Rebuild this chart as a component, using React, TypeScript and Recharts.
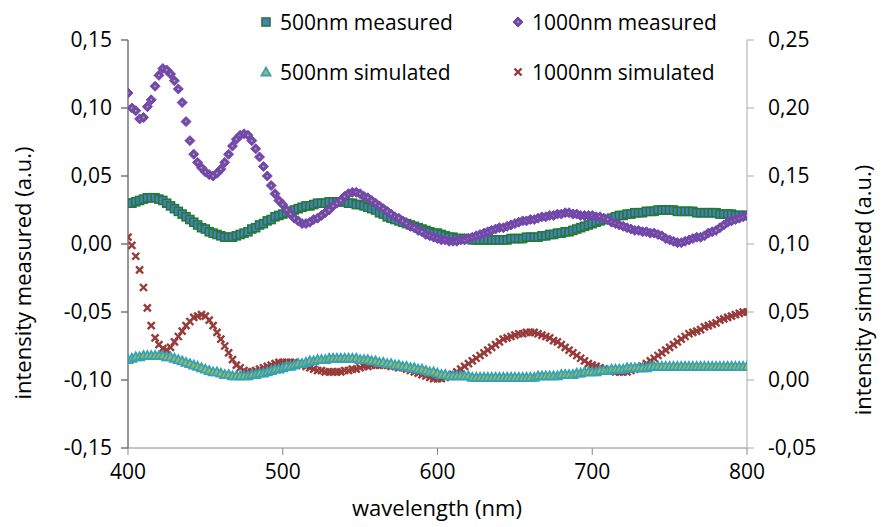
import { ScatterChart, Scatter, XAxis, YAxis, Label } from "recharts";

// wavelength grid (nm), 2.5 nm steps
const WAVELENGTH = [
  400, 402.5, 405, 407.5, 410, 412.5, 415, 417.5, 420, 422.5, 425, 427.5, 430, 432.5, 435, 437.5, 440, 442.5, 445, 447.5,
  450, 452.5, 455, 457.5, 460, 462.5, 465, 467.5, 470, 472.5, 475, 477.5, 480, 482.5, 485, 487.5, 490, 492.5, 495, 497.5,
  500, 502.5, 505, 507.5, 510, 512.5, 515, 517.5, 520, 522.5, 525, 527.5, 530, 532.5, 535, 537.5, 540, 542.5, 545, 547.5,
  550, 552.5, 555, 557.5, 560, 562.5, 565, 567.5, 570, 572.5, 575, 577.5, 580, 582.5, 585, 587.5, 590, 592.5, 595, 597.5,
  600, 602.5, 605, 607.5, 610, 612.5, 615, 617.5, 620, 622.5, 625, 627.5, 630, 632.5, 635, 637.5, 640, 642.5, 645, 647.5,
  650, 652.5, 655, 657.5, 660, 662.5, 665, 667.5, 670, 672.5, 675, 677.5, 680, 682.5, 685, 687.5, 690, 692.5, 695, 697.5,
  700, 702.5, 705, 707.5, 710, 712.5, 715, 717.5, 720, 722.5, 725, 727.5, 730, 732.5, 735, 737.5, 740, 742.5, 745, 747.5,
  750, 752.5, 755, 757.5, 760, 762.5, 765, 767.5, 770, 772.5, 775, 777.5, 780, 782.5, 785, 787.5, 790, 792.5, 795, 797.5,
  800,
];

// left axis (measured)
const MEASURED_500 = [
  0.030, 0.030, 0.031, 0.032, 0.033, 0.034, 0.034, 0.034, 0.033, 0.032, 0.030, 0.028, 0.026, 0.024, 0.022, 0.020, 0.018, 0.016, 0.014, 0.012,
  0.011, 0.009, 0.008, 0.007, 0.006, 0.005, 0.005, 0.005, 0.006, 0.007, 0.008, 0.009, 0.011, 0.012, 0.014, 0.015, 0.017, 0.018, 0.020, 0.021,
  0.022, 0.023, 0.024, 0.025, 0.026, 0.027, 0.028, 0.028, 0.029, 0.030, 0.030, 0.030, 0.031, 0.031, 0.031, 0.031, 0.031, 0.030, 0.030, 0.029,
  0.029, 0.028, 0.027, 0.026, 0.025, 0.023, 0.022, 0.020, 0.019, 0.018, 0.017, 0.016, 0.015, 0.014, 0.013, 0.012, 0.011, 0.010, 0.009, 0.008,
  0.008, 0.007, 0.006, 0.005, 0.005, 0.004, 0.004, 0.004, 0.004, 0.003, 0.003, 0.003, 0.003, 0.003, 0.003, 0.003, 0.003, 0.003, 0.003, 0.004,
  0.004, 0.004, 0.004, 0.005, 0.005, 0.005, 0.005, 0.006, 0.006, 0.007, 0.007, 0.008, 0.008, 0.009, 0.009, 0.010, 0.011, 0.012, 0.013, 0.014,
  0.015, 0.016, 0.017, 0.018, 0.018, 0.019, 0.020, 0.021, 0.021, 0.022, 0.022, 0.023, 0.023, 0.023, 0.024, 0.024, 0.024, 0.025, 0.025, 0.025,
  0.025, 0.025, 0.024, 0.024, 0.024, 0.024, 0.024, 0.023, 0.023, 0.023, 0.023, 0.023, 0.023, 0.022, 0.022, 0.022, 0.022, 0.021, 0.021, 0.021,
  0.021,
];

const MEASURED_1000 = [
  0.111, 0.100, 0.098, 0.092, 0.093, 0.101, 0.106, 0.116, 0.124, 0.129, 0.128, 0.125, 0.120, 0.114, 0.104, 0.090, 0.076, 0.066, 0.060, 0.056,
  0.053, 0.051, 0.050, 0.052, 0.055, 0.060, 0.066, 0.072, 0.077, 0.080, 0.081, 0.080, 0.076, 0.070, 0.064, 0.057, 0.050, 0.043, 0.037, 0.032,
  0.029, 0.025, 0.022, 0.019, 0.017, 0.015, 0.015, 0.016, 0.018, 0.019, 0.021, 0.023, 0.025, 0.028, 0.030, 0.032, 0.035, 0.037, 0.038, 0.038,
  0.037, 0.035, 0.034, 0.032, 0.030, 0.028, 0.026, 0.024, 0.022, 0.020, 0.019, 0.017, 0.015, 0.013, 0.012, 0.010, 0.009, 0.007, 0.006, 0.005,
  0.004, 0.003, 0.003, 0.002, 0.002, 0.002, 0.003, 0.003, 0.004, 0.005, 0.006, 0.007, 0.008, 0.009, 0.010, 0.011, 0.012, 0.012, 0.013, 0.014,
  0.015, 0.016, 0.017, 0.017, 0.018, 0.018, 0.019, 0.020, 0.020, 0.021, 0.021, 0.022, 0.022, 0.023, 0.023, 0.022, 0.022, 0.021, 0.021, 0.021,
  0.021, 0.020, 0.020, 0.019, 0.018, 0.016, 0.015, 0.014, 0.013, 0.012, 0.011, 0.010, 0.010, 0.009, 0.009, 0.008, 0.008, 0.007, 0.006, 0.004,
  0.003, 0.002, 0.001, 0.001, 0.002, 0.003, 0.004, 0.005, 0.005, 0.006, 0.008, 0.009, 0.010, 0.012, 0.014, 0.016, 0.017, 0.018, 0.019, 0.020,
  0.021,
];

// right axis (simulated)
const SIMULATED_500 = [
  0.015, 0.016, 0.017, 0.017, 0.018, 0.018, 0.018, 0.018, 0.018, 0.018, 0.017, 0.017, 0.016, 0.015, 0.014, 0.013, 0.012, 0.011, 0.010, 0.009,
  0.008, 0.007, 0.006, 0.006, 0.005, 0.004, 0.004, 0.003, 0.003, 0.003, 0.003, 0.003, 0.004, 0.004, 0.005, 0.005, 0.006, 0.007, 0.008, 0.008,
  0.009, 0.010, 0.010, 0.011, 0.012, 0.012, 0.013, 0.014, 0.014, 0.015, 0.015, 0.015, 0.016, 0.016, 0.016, 0.016, 0.016, 0.016, 0.016, 0.016,
  0.015, 0.015, 0.015, 0.014, 0.014, 0.013, 0.013, 0.012, 0.012, 0.011, 0.011, 0.010, 0.010, 0.009, 0.009, 0.008, 0.008, 0.007, 0.006, 0.006,
  0.005, 0.004, 0.004, 0.003, 0.003, 0.003, 0.003, 0.003, 0.003, 0.002, 0.002, 0.002, 0.002, 0.002, 0.002, 0.002, 0.002, 0.002, 0.002, 0.002,
  0.002, 0.002, 0.002, 0.002, 0.002, 0.002, 0.003, 0.003, 0.003, 0.003, 0.003, 0.003, 0.004, 0.004, 0.004, 0.004, 0.005, 0.005, 0.006, 0.006,
  0.006, 0.006, 0.007, 0.007, 0.007, 0.008, 0.008, 0.008, 0.008, 0.009, 0.009, 0.009, 0.009, 0.009, 0.009, 0.010, 0.010, 0.010, 0.010, 0.010,
  0.010, 0.010, 0.010, 0.010, 0.010, 0.010, 0.010, 0.010, 0.010, 0.010, 0.010, 0.010, 0.010, 0.010, 0.010, 0.010, 0.010, 0.010, 0.010, 0.010,
  0.010,
];

const SIMULATED_1000 = [
  0.105, 0.099, 0.091, 0.081, 0.068, 0.053, 0.040, 0.031, 0.026, 0.023, 0.022, 0.024, 0.028, 0.032, 0.036, 0.040, 0.043, 0.046, 0.047, 0.048,
  0.047, 0.044, 0.040, 0.035, 0.030, 0.025, 0.020, 0.015, 0.011, 0.009, 0.007, 0.006, 0.006, 0.007, 0.008, 0.009, 0.010, 0.011, 0.012, 0.013,
  0.013, 0.013, 0.013, 0.013, 0.012, 0.011, 0.010, 0.009, 0.008, 0.007, 0.007, 0.006, 0.006, 0.006, 0.006, 0.006, 0.007, 0.007, 0.008, 0.008,
  0.009, 0.010, 0.010, 0.011, 0.011, 0.011, 0.011, 0.011, 0.010, 0.010, 0.009, 0.009, 0.008, 0.007, 0.006, 0.005, 0.004, 0.003, 0.002, 0.001,
  0.001, 0.001, 0.002, 0.003, 0.004, 0.006, 0.008, 0.010, 0.012, 0.014, 0.016, 0.018, 0.020, 0.022, 0.024, 0.026, 0.028, 0.030, 0.031, 0.032,
  0.033, 0.034, 0.034, 0.035, 0.035, 0.035, 0.034, 0.033, 0.032, 0.031, 0.029, 0.028, 0.026, 0.024, 0.022, 0.020, 0.018, 0.016, 0.014, 0.012,
  0.011, 0.010, 0.009, 0.008, 0.007, 0.007, 0.006, 0.006, 0.006, 0.006, 0.007, 0.008, 0.009, 0.010, 0.012, 0.014, 0.016, 0.018, 0.020, 0.022,
  0.024, 0.026, 0.028, 0.030, 0.032, 0.034, 0.035, 0.036, 0.037, 0.039, 0.040, 0.041, 0.042, 0.044, 0.045, 0.046, 0.047, 0.048, 0.049, 0.050,
  0.050,
];

const X_TICKS = [400, 500, 600, 700, 800];
const LEFT_TICKS = [-0.15, -0.1, -0.05, 0, 0.05, 0.1, 0.15];
const RIGHT_TICKS = [-0.05, 0, 0.05, 0.1, 0.15, 0.2, 0.25];

const FONT = "'Open Sans', sans-serif";

const toPoints = (ys: number[]) => WAVELENGTH.map((x, i) => ({ x, y: ys[i] }));
const comma = (v: number) => v.toFixed(2).replace(".", ",");

// marker shapes
const Square = ({ cx, cy }: any) => (
  <rect x={cx - 4} y={cy - 4} width={8} height={8} fill="#4a7ebb" stroke="#23793b" strokeWidth={1.6} />
);
const Diamond = ({ cx, cy }: any) => (
  <g>
    <polygon points={`${cx},${cy - 5} ${cx + 5},${cy} ${cx},${cy + 5} ${cx - 5},${cy}`} fill="#7447ae" stroke="#7447ae" strokeWidth={1} />
    <circle cx={cx} cy={cy} r={1} fill="#9bbb59" />
  </g>
);
const Triangle = ({ cx, cy }: any) => (
  <polygon points={`${cx},${cy - 4.5} ${cx + 4.5},${cy + 3.5} ${cx - 4.5},${cy + 3.5}`} fill="#9bbb59" stroke="#35a2b7" strokeWidth={1.8} />
);
const Cross = ({ cx, cy }: any) => (
  <g stroke="#973c3a" strokeWidth={2.4}>
    <line x1={cx - 3.5} y1={cy - 3.5} x2={cx + 3.5} y2={cy + 3.5} />
    <line x1={cx - 3.5} y1={cy + 3.5} x2={cx + 3.5} y2={cy - 3.5} />
  </g>
);

const legendItems = [
  { name: "500nm measured", Shape: Square, x: 266, y: 22 },
  { name: "1000nm measured", Shape: Diamond, x: 518, y: 22 },
  { name: "500nm simulated", Shape: Triangle, x: 266, y: 72 },
  { name: "1000nm simulated", Shape: Cross, x: 518, y: 72 },
];

const textStyle = { fontFamily: FONT, fontSize: 21, fill: "#000" };
const titleStyle = { fontFamily: FONT, fontSize: 22, fill: "#000" };

export default function App() {
  return (
    <div style={{ position: "absolute", left: 0, top: 0, width: 889, height: 527, background: "#fff" }}>
      <ScatterChart width={889} height={527} margin={{ top: 40, right: 0, bottom: 0, left: 0 }}>
        <XAxis
          type="number"
          dataKey="x"
          domain={[400, 800]}
          ticks={X_TICKS}
          allowDataOverflow
          height={79}
          stroke="#8a8a8a"
          tickSize={7}
          tickMargin={9}
          tick={textStyle}
        >
          <Label
            content={() => (
              <text x={437} y={516} textAnchor="middle" {...titleStyle}>
                wavelength (nm)
              </text>
            )}
          />
        </XAxis>
        <YAxis
          yAxisId="left"
          dataKey="y"
          type="number"
          domain={[-0.15, 0.15]}
          ticks={LEFT_TICKS}
          allowDataOverflow
          width={128}
          stroke="#767676"
          strokeWidth={1.5}
          tickSize={7}
          tickMargin={9}
          tick={textStyle}
          tickFormatter={comma}
        >
          <Label
            content={() => (
              <text x={22} y={273} textAnchor="middle" dominantBaseline="central" transform="rotate(-90 22 273)" {...titleStyle}>
                intensity measured (a.u.)
              </text>
            )}
          />
        </YAxis>
        <YAxis
          yAxisId="right"
          orientation="right"
          dataKey="y"
          type="number"
          domain={[-0.05, 0.25]}
          ticks={RIGHT_TICKS}
          allowDataOverflow
          width={142}
          stroke="#a8a8a8"
          tickSize={7}
          tickMargin={14}
          tick={textStyle}
          tickFormatter={comma}
        >
          <Label
            content={() => (
              <text x={862} y={290} textAnchor="middle" dominantBaseline="central" transform="rotate(-90 862 290)" {...titleStyle}>
                intensity simulated (a.u.)
              </text>
            )}
          />
        </YAxis>
        <Scatter name="500nm measured" yAxisId="left" data={toPoints(MEASURED_500)} shape={Square} isAnimationActive={false} />
        <Scatter name="1000nm measured" yAxisId="left" data={toPoints(MEASURED_1000)} shape={Diamond} isAnimationActive={false} />
        <Scatter name="1000nm simulated" yAxisId="right" data={toPoints(SIMULATED_1000)} shape={Cross} isAnimationActive={false} />
        <Scatter name="500nm simulated" yAxisId="right" data={toPoints(SIMULATED_500)} shape={Triangle} isAnimationActive={false} />
      </ScatterChart>
      <svg width={889} height={100} style={{ position: "absolute", left: 0, top: 0, pointerEvents: "none" }}>
        {legendItems.map(({ name, Shape, x, y }) => (
          <g key={name}>
            <Shape cx={x} cy={y} />
            <text x={x + 14} y={y} dominantBaseline="central" {...textStyle}>
              {name}
            </text>
          </g>
        ))}
      </svg>
    </div>
  );
}
